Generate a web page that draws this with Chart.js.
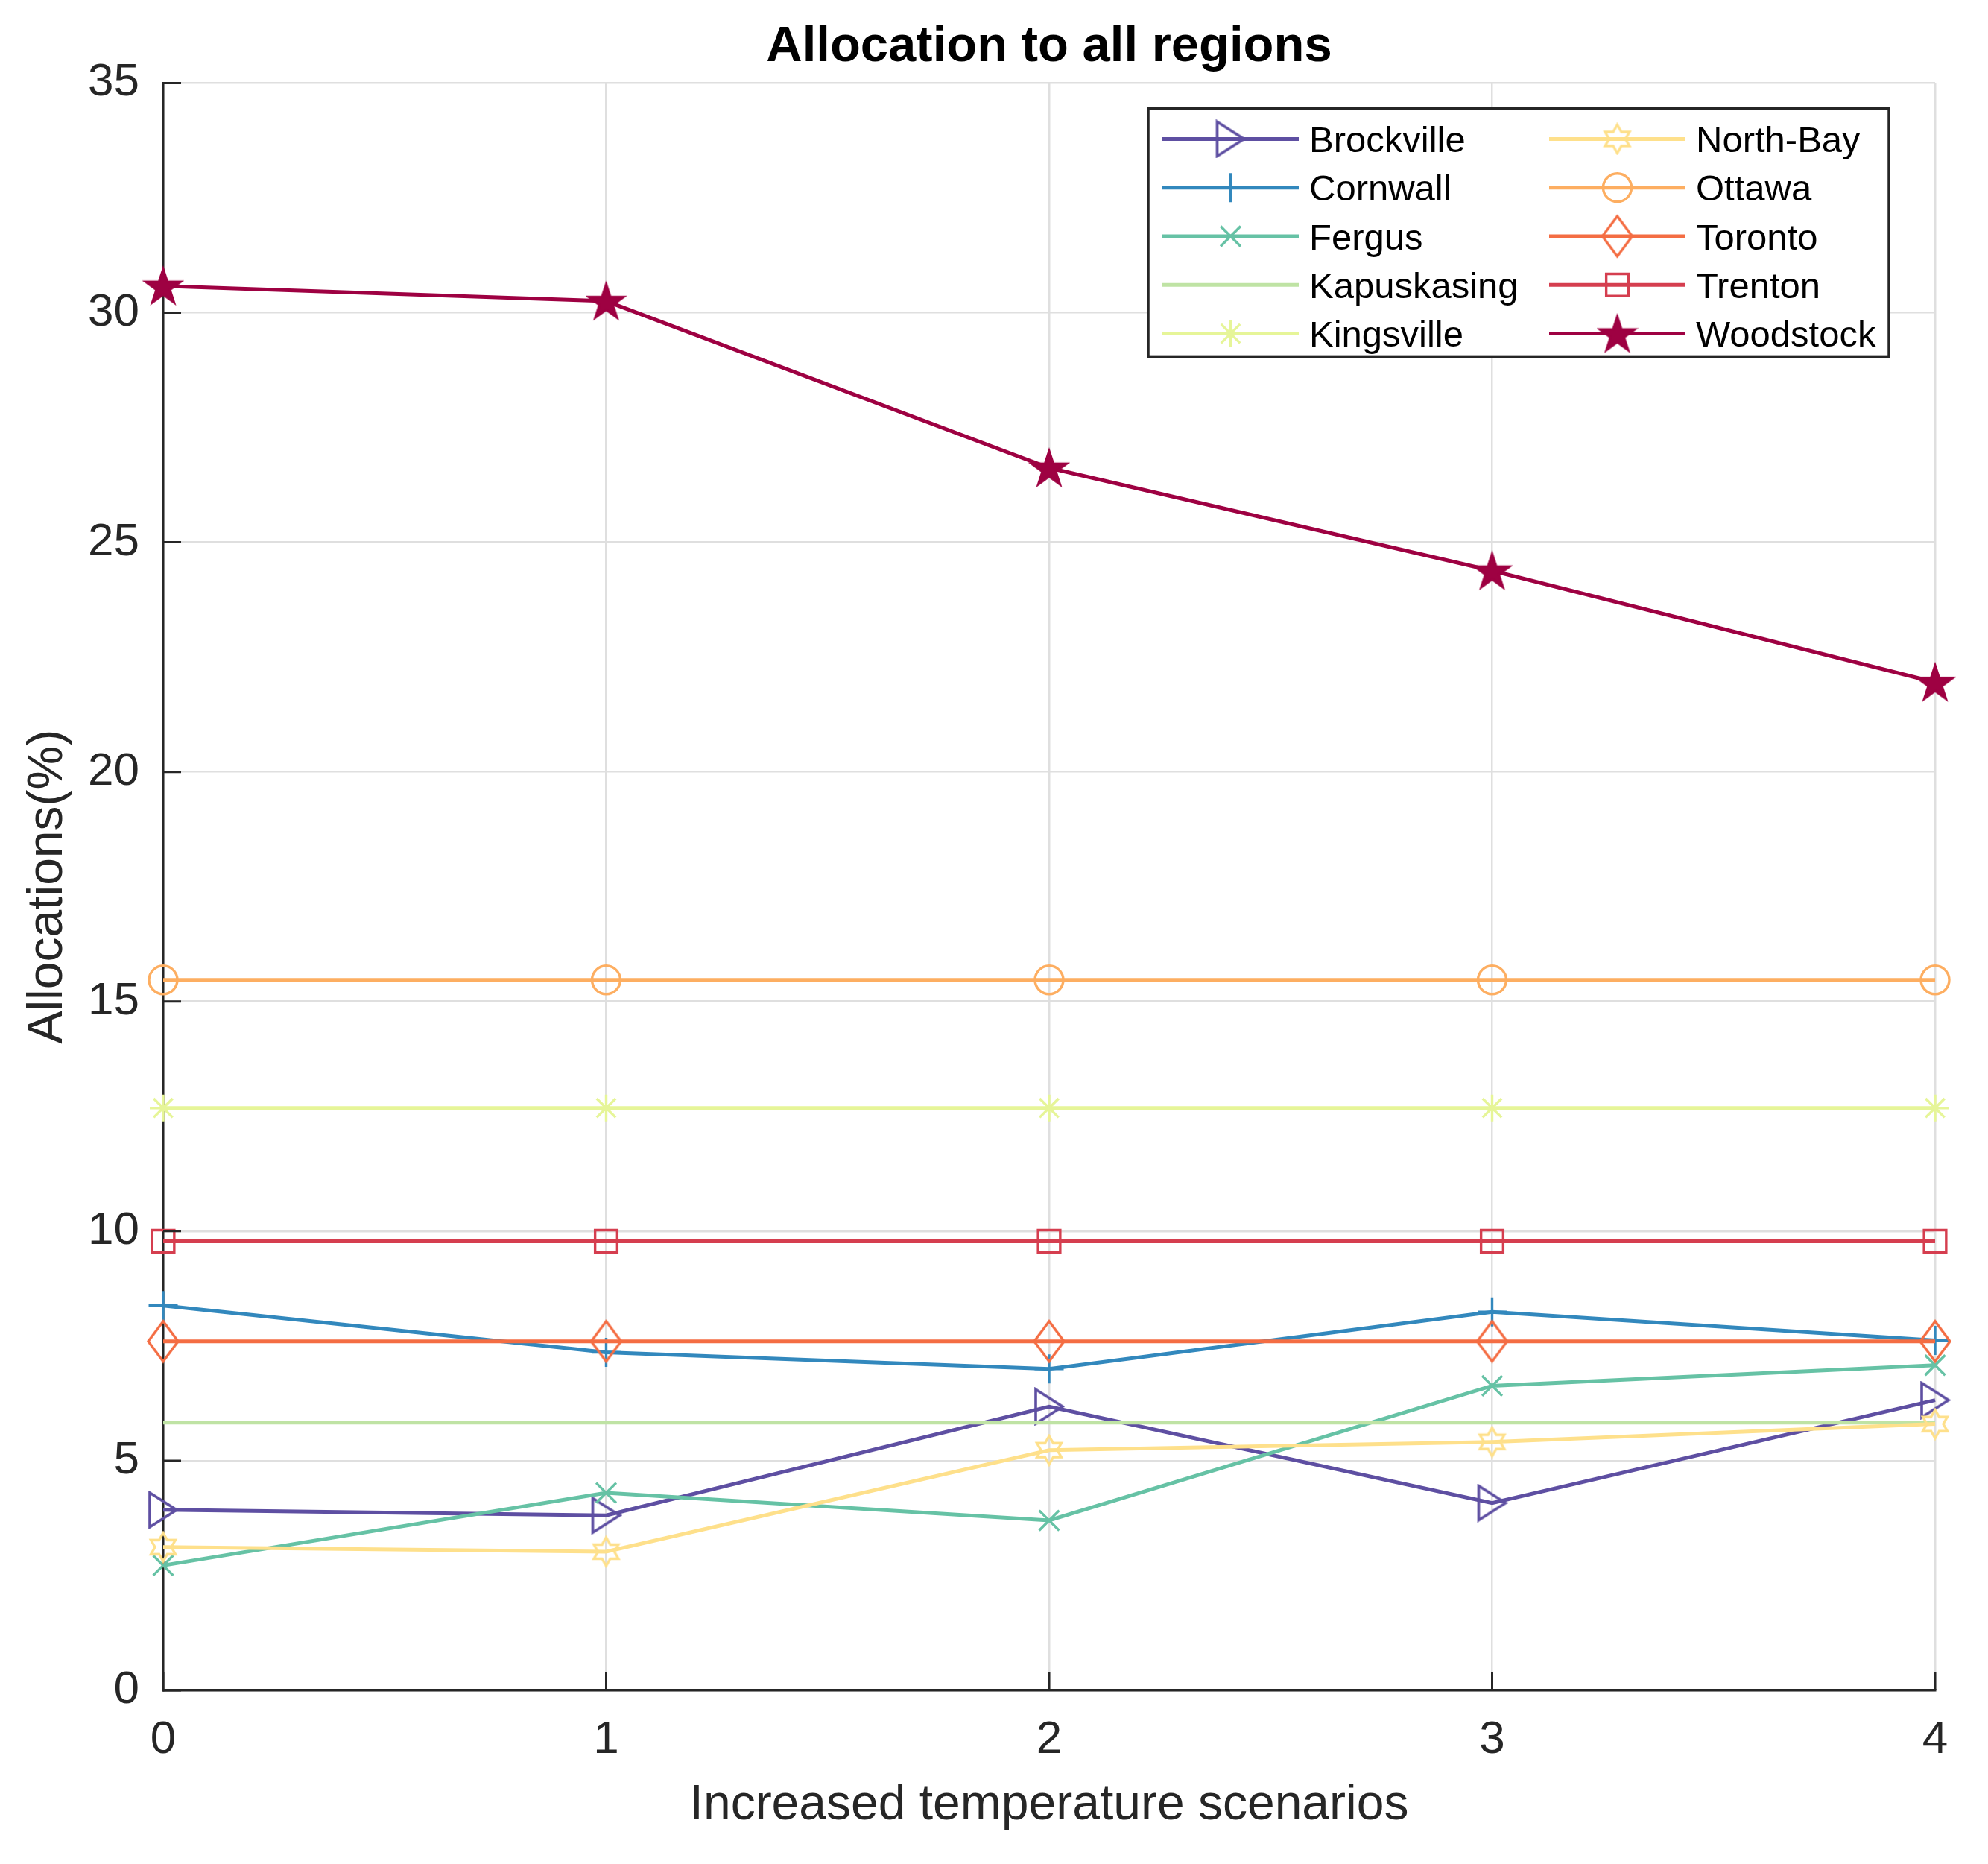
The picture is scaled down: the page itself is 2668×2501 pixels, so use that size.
<!DOCTYPE html>
<html>
<head>
<meta charset="utf-8">
<title>Allocation to all regions</title>
<script src="https://cdn.jsdelivr.net/npm/chart.js@4.4.1/dist/chart.umd.min.js"></script>
<style>
  html, body { margin: 0; padding: 0; background: #ffffff; }
  #wrap { width: 2668px; height: 2501px; }
</style>
</head>
<body>
<div id="wrap"><canvas id="allocChart" width="2668" height="2501"></canvas></div>
<script>
// values (allocation in %, per temperature scenario)
const scenarios = [0, 1, 2, 3, 4];
const regionNames = ['Brockville', 'Cornwall', 'Fergus', 'Kapuskasing', 'Kingsville',
                     'North-Bay', 'Ottawa', 'Toronto', 'Trenton', 'Woodstock'];
const brockville  = [3.93, 3.81, 6.18, 4.08, 6.32];
const cornwall    = [8.38, 7.36, 7.00, 8.24, 7.62];
const fergus      = [2.72, 4.30, 3.70, 6.63, 7.08];
const kapuskasing = [5.83, 5.83, 5.83, 5.83, 5.83];
const kingsville  = [12.68, 12.68, 12.68, 12.68, 12.68];
const northBay    = [3.12, 3.02, 5.23, 5.41, 5.80];
const ottawa      = [15.47, 15.47, 15.47, 15.47, 15.47];
const toronto     = [7.60, 7.60, 7.60, 7.60, 7.60];
const trenton     = [9.78, 9.78, 9.78, 9.78, 9.78];
const woodstock   = [30.58, 30.25, 26.62, 24.38, 21.95];
const xTickValues = [0, 1, 2, 3, 4];
const yTickValues = [0, 5, 10, 15, 20, 25, 30, 35];

const seriesValues = [brockville, cornwall, fergus, kapuskasing, kingsville,
                      northBay, ottawa, toronto, trenton, woodstock];
const colors = ['#5e4fa2', '#3288bd', '#66c2a5', '#bfe3a4', '#e6f598',
                '#fee08b', '#fdae61', '#f46d43', '#d53e4f', '#9e0142'];

const FONT = '"Liberation Sans", Arial, Helvetica, sans-serif';

// small offscreen canvases for the matlab markers chart.js doesn't have
function markerCanvas(w, h, paint) {
    const c = document.createElement('canvas');
    c.width = w;
    c.height = h;
    paint(c.getContext('2d'), w, h);
    return c;
}

function starPath(g, cx, cy, n, outer, inner) {
    g.beginPath();
    for (let k = 0; k < n * 2; k++) {
        const r = k % 2 === 0 ? outer : inner;
        const a = -Math.PI / 2 + k * Math.PI / n;
        const px = cx + r * Math.cos(a), py = cy + r * Math.sin(a);
        if (k === 0) g.moveTo(px, py); else g.lineTo(px, py);
    }
    g.closePath();
}

const triRight = markerCanvas(42, 52, (g, w, h) => {
    g.strokeStyle = colors[0];
    g.lineWidth = 3.6;
    g.beginPath();
    g.moveTo(3, 3);
    g.lineTo(w - 3, h / 2);
    g.lineTo(3, h - 3);
    g.closePath();
    g.stroke();
});

const hexagram = markerCanvas(44, 44, (g, w, h) => {
    g.strokeStyle = colors[5];
    g.lineWidth = 3.4;
    starPath(g, w / 2, h / 2, 6, 19, 19 / Math.sqrt(3));
    g.stroke();
});

const tallDiamond = markerCanvas(46, 60, (g, w, h) => {
    g.strokeStyle = colors[7];
    g.lineWidth = 3.4;
    g.beginPath();
    g.moveTo(w / 2, 3);
    g.lineTo(w - 3, h / 2);
    g.lineTo(w / 2, h - 3);
    g.lineTo(3, h / 2);
    g.closePath();
    g.stroke();
});

const pentagram = markerCanvas(56, 56, (g, w, h) => {
    g.fillStyle = colors[9];
    g.strokeStyle = colors[9];
    g.lineWidth = 3;
    starPath(g, w / 2, h / 2 + 2, 5, 25, 25 * 0.382);
    g.fill();
    g.stroke();
});

const markerStyles = [triRight, 'cross', 'crossRot', false, 'star',
                      hexagram, 'circle', tallDiamond, 'rect', pentagram];
const markerRadius = [20, 19.5, 19, 0, 18, 18, 19, 18, 21, 25];

const datasets = regionNames.map((name, i) => ({
    label: name,
    data: scenarios.map((s, j) => ({x: s, y: seriesValues[i][j]})),
    borderColor: colors[i],
    backgroundColor: colors[i],
    borderWidth: 5,
    pointStyle: markerStyles[i],
    pointRadius: markerRadius[i],
    pointBorderWidth: 3.4,
    pointBorderColor: colors[i],
    pointBackgroundColor: 'rgba(0,0,0,0)',
    tension: 0,
    clip: false,
    order: regionNames.length - i
}));

// inward tick marks like matlab
const innerTicks = {
    id: 'innerTicks',
    afterDraw(chart) {
        const ctx = chart.ctx;
        const xs = chart.scales.x, ys = chart.scales.y;
        const area = chart.chartArea;
        ctx.save();
        ctx.strokeStyle = '#262626';
        ctx.lineWidth = 3;
        ctx.beginPath();
        xTickValues.forEach(v => {
            const px = xs.getPixelForValue(v);
            ctx.moveTo(px, area.bottom);
            ctx.lineTo(px, area.bottom - 24);
        });
        yTickValues.forEach(v => {
            const py = ys.getPixelForValue(v);
            ctx.moveTo(area.left, py);
            ctx.lineTo(area.left + 24, py);
        });
        ctx.stroke();
        ctx.restore();
    }
};

// two column legend with line + marker
const boxLegend = {
    id: 'boxLegend',
    afterDraw(chart) {
        const ctx = chart.ctx;
        const area = chart.chartArea;
        const w = 994, h = 333;
        const left = area.right - 62 - w;
        const top = area.top + 34;
        ctx.save();
        ctx.fillStyle = '#ffffff';
        ctx.fillRect(left, top, w, h);
        ctx.strokeStyle = '#262626';
        ctx.lineWidth = 3.5;
        ctx.strokeRect(left, top, w, h);

        chart.data.datasets.forEach((ds, i) => {
            const col = i < 5 ? 0 : 1;
            const row = i % 5;
            const y = top + 41 + row * 65.3;
            const x0 = left + (col === 0 ? 19 : 538);
            const x1 = x0 + 183;
            ctx.strokeStyle = ds.borderColor;
            ctx.lineWidth = 5;
            ctx.beginPath();
            ctx.moveTo(x0, y);
            ctx.lineTo(x1, y);
            ctx.stroke();
            if (ds.pointStyle) {
                ctx.fillStyle = ds.pointBackgroundColor;
                ctx.strokeStyle = ds.pointBorderColor;
                ctx.lineWidth = ds.pointBorderWidth;
                Chart.helpers.drawPoint(ctx, {
                    pointStyle: ds.pointStyle,
                    radius: ds.pointRadius,
                    borderWidth: ds.pointBorderWidth,
                    rotation: 0
                }, (x0 + x1) / 2, y);
            }
            ctx.fillStyle = '#000000';
            ctx.font = '49px ' + FONT;
            ctx.textAlign = 'left';
            ctx.textBaseline = 'middle';
            ctx.fillText(ds.label, x1 + 14, y + 4);
        });
        ctx.restore();
    }
};

const allocChart = new Chart(document.getElementById('allocChart'), {
    type: 'line',
    data: { datasets: datasets },
    options: {
        responsive: false,
        animation: false,
        devicePixelRatio: 1,
        layout: { padding: { left: 0, right: 71, top: 0, bottom: 0 } },
        plugins: {
            legend: { display: false },
            tooltip: { enabled: false },
            title: {
                display: true,
                fullSize: false,
                text: 'Allocation to all regions',
                color: '#000000',
                font: { family: FONT, size: 67, weight: 'bold' },
                padding: { top: 23, bottom: 8 }
            }
        },
        scales: {
            x: {
                type: 'linear',
                min: 0,
                max: 4,
                afterFit: (scale) => { scale.height = 233; },
                afterBuildTicks: (scale) => { scale.ticks = xTickValues.map(v => ({value: v})); },
                ticks: {
                    color: '#262626',
                    font: { family: FONT, size: 62 },
                    padding: 30,
                    maxRotation: 0
                },
                grid: { color: '#dfdfdf', lineWidth: 2.5, drawTicks: false },
                border: { display: true, color: '#262626', width: 3.5 },
                title: {
                    display: true,
                    text: 'Increased temperature scenarios',
                    color: '#262626',
                    font: { family: FONT, size: 66 },
                    padding: { top: 0, bottom: 39 }
                }
            },
            y: {
                type: 'linear',
                min: 0,
                max: 35,
                afterFit: (scale) => { scale.width = 219; },
                afterBuildTicks: (scale) => { scale.ticks = yTickValues.map(v => ({value: v})); },
                ticks: {
                    color: '#262626',
                    font: { family: FONT, size: 62 },
                    padding: 32
                },
                grid: { color: '#dfdfdf', lineWidth: 2.5, drawTicks: false },
                border: { display: true, color: '#262626', width: 3.5 },
                title: {
                    display: true,
                    text: 'Allocations(%)',
                    color: '#262626',
                    font: { family: FONT, size: 66 },
                    padding: { top: 25, bottom: 0 }
                }
            }
        }
    },
    plugins: [innerTicks, boxLegend]
});
</script>
</body>
</html>
